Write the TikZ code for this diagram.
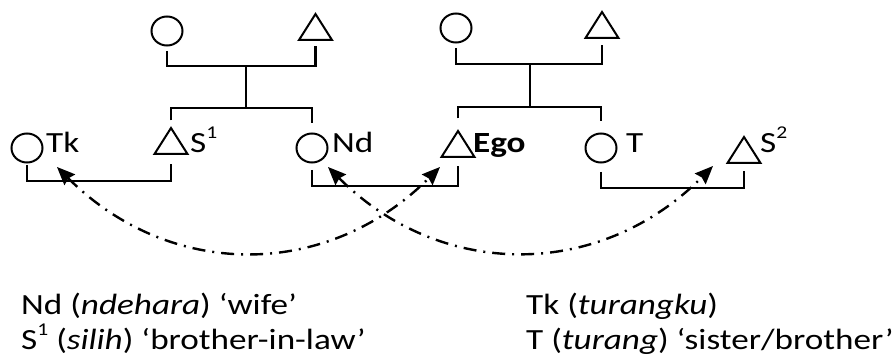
\documentclass[tikz,border=0pt]{standalone}
\usepackage{fontspec}
\setmainfont[FakeStretch=1.2]{Carlito}
\usetikzlibrary{shapes.geometric,arrows.meta}
\newcommand\supnum[1]{\raisebox{14pt}{\fontsize{18}{18}\selectfont #1}}
\begin{document}
\begin{tikzpicture}[x=1pt,y=-1pt,
  fem/.style={ellipse,draw,line width=2pt,minimum width=31pt,minimum height=29pt,inner sep=0pt},
  mal/.style={isosceles triangle,isosceles triangle stretches,shape border rotate=90,draw,line width=2pt,minimum width=33pt,minimum height=26pt,inner sep=0pt,anchor=lower side},
  lbl/.style={anchor=base west,inner sep=0pt,font=\fontsize{29.3}{35}\selectfont},
  kin/.style={line width=2.2pt},
  rel/.style={line width=2.4pt,dash pattern=on 13pt off 7pt on 2pt off 7pt,{Stealth[length=18pt,width=15pt,inset=2pt]}-{Stealth[length=18pt,width=15pt,inset=2pt]}},
]
\useasboundingbox (0,0) rectangle (892,363);
% first generation
\node[fem] (gfL) at (167,31) {};
\node[mal] (gmL) at (315.5,41) {};
\coordinate (mL) at (246,66);
\coordinate (sL) at (246,108);
\node[fem] (gfR) at (456,28) {};
\node[mal] (gmR) at (602,39) {};
\coordinate (mR) at (530,64);
\coordinate (sR) at (530,107);
% second generation
\node[fem] (Tk) at (27,148) {};
\node[mal] (S1) at (171,155) {};
\node[fem] (Nd) at (312,148) {};
\node[mal] (Ego) at (458,158) {};
\node[fem] (T) at (601,148) {};
\node[mal] (S2) at (744,164) {};
% labels
\node[lbl] (lTk) at (46,153) {Tk};
\node[lbl] (lS1) at (190,153) {S\supnum{1}};
\node[lbl] (lNd) at (332,153) {Nd};
\node[lbl] (lEgo) at (473,153) {\bfseries Ego};
\node[lbl] (lT) at (626,153) {T};
\node[lbl] (lS2) at (760,153) {S\supnum{2}};
% family lines
\draw[kin] ([yshift=-4.5pt]gfL.south) |- (mL) -| ([yshift=-5pt]gmL.lower side);
\draw[kin] (mL) -- (sL);
\draw[kin] ([yshift=5pt]S1.apex) |- (sL) -| ([yshift=9.5pt]Nd.north);
\draw[kin] ([yshift=-4.5pt]gfR.south) |- (mR) -| ([yshift=-6pt]gmR.lower side);
\draw[kin] (mR) -- (sR);
\draw[kin] ([yshift=10pt]Ego.apex) |- (sR) -| ([yshift=11.5pt]T.north);
% couples
\draw[kin] ([yshift=-1.5pt]Tk.south) -- ++(0,16) -| ([yshift=-9pt]S1.lower side);
\draw[kin] ([yshift=-6.5pt]Nd.south) -- ++(0,16) -| ([yshift=-8pt]Ego.lower side);
\draw[kin] ([yshift=-8.5pt]T.south) -- ++(0,16) -| ([yshift=-7pt]S2.lower side);
% relations
\coordinate (aTk) at (57,167);
\coordinate (aEgo) at (440,167);
\coordinate (aNd) at (328,167);
\coordinate (aS2) at (713,166);
\draw[rel] (aTk) .. controls +(113,113) and +(-113,113) .. (aEgo);
\draw[rel] (aNd) .. controls +(113,113) and +(-113,114) .. (aS2);
% legend
\node[lbl] (leg1) at (21,315) {Nd (\textit{ndehara}) ‘wife’};
\node[lbl] (leg2) at (21,350) {S\supnum{1} (\textit{silih}) ‘brother-in-law’};
\node[lbl] (leg3) at (526,315) {Tk (\textit{turangku})};
\node[lbl] (leg4) at (526,350) {T (\textit{turang}) ‘sister/brother’};
\end{tikzpicture}
\end{document}
